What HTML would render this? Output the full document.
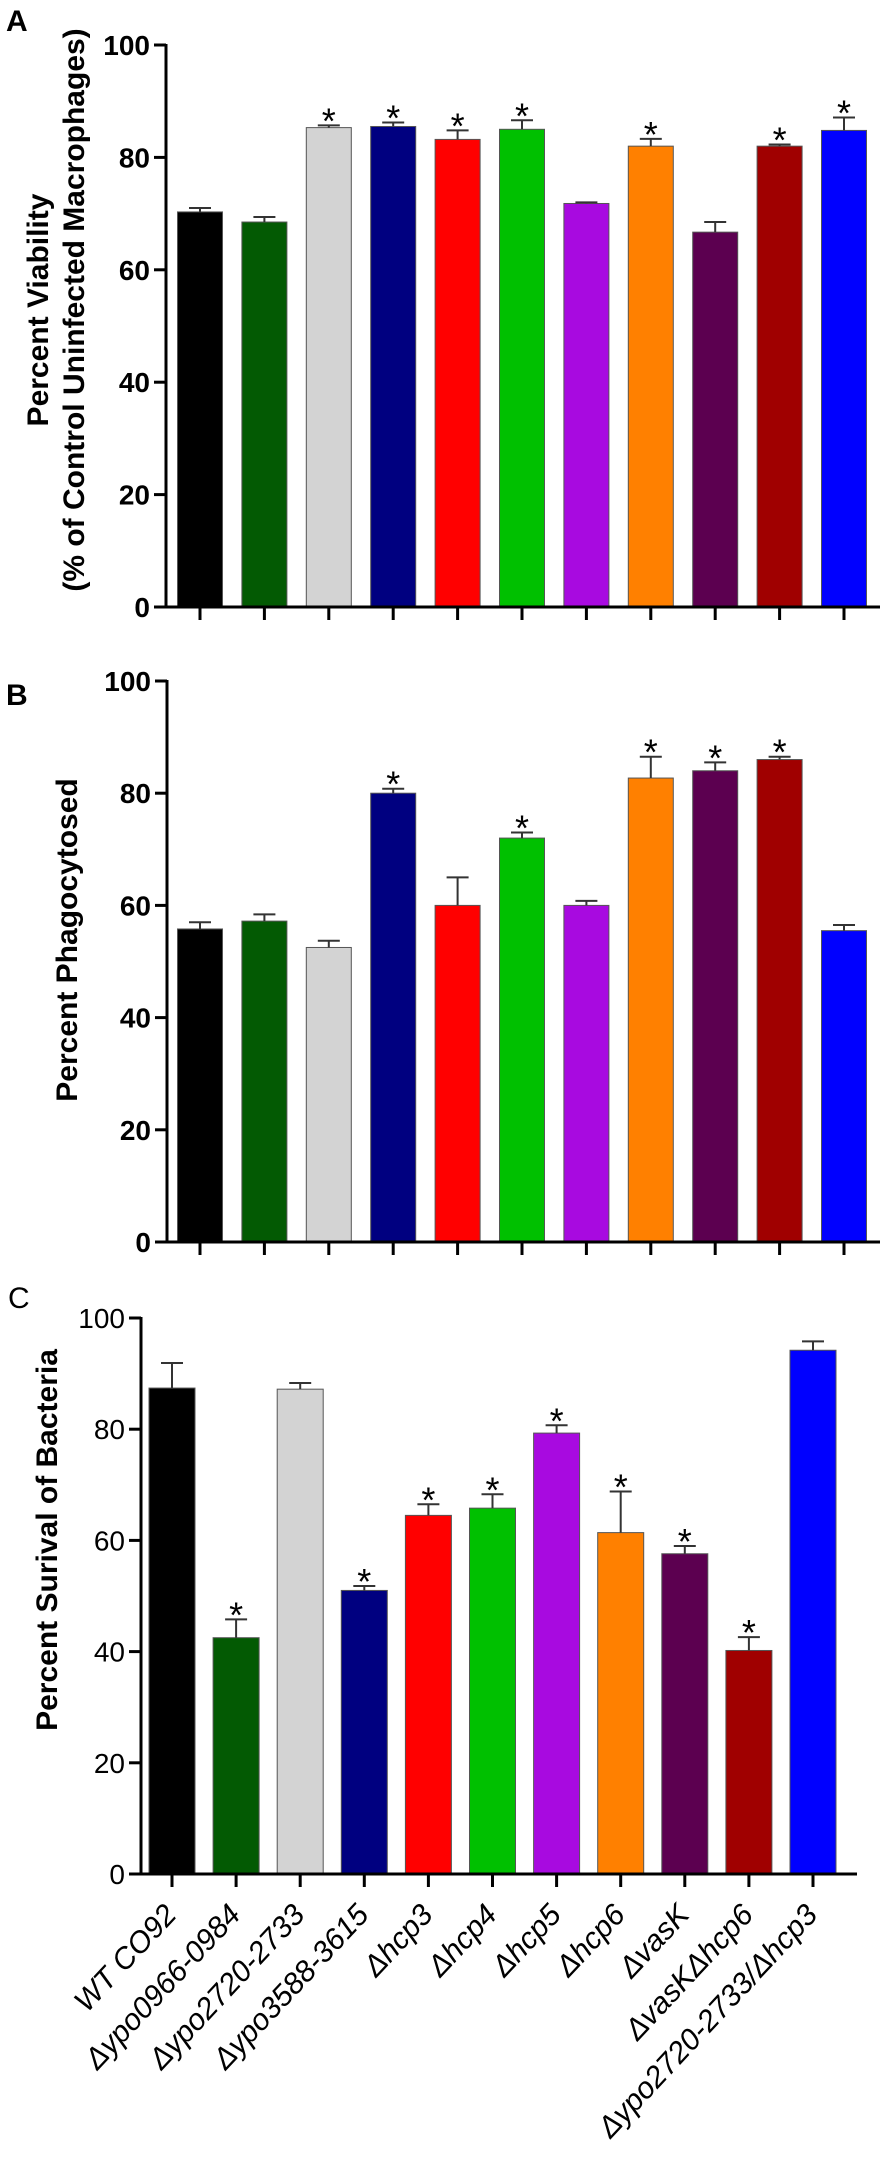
<!DOCTYPE html>
<html><head><meta charset="utf-8"><style>
html,body{margin:0;padding:0;background:#fff;}
svg{display:block;font-family:"Liberation Sans",Arial,sans-serif;}
</style></head><body>
<svg id="chart" width="885" height="2158" viewBox="0 0 885 2158" xmlns="http://www.w3.org/2000/svg">
<text x="6" y="31" font-size="30" font-weight="bold">A</text>
<text x="6" y="705" font-size="30" font-weight="bold">B</text>
<text x="8" y="1308" font-size="30">C</text>
<text transform="translate(48,310) rotate(-90)" text-anchor="middle" font-size="30" font-weight="bold">Percent Viability</text>
<text transform="translate(84,310) rotate(-90)" text-anchor="middle" font-size="30" font-weight="bold">(% of Control Uninfected Macrophages)</text>
<text transform="translate(77,940) rotate(-90)" text-anchor="middle" font-size="30" font-weight="bold">Percent Phagocytosed</text>
<text transform="translate(57,1540) rotate(-90)" text-anchor="middle" font-size="30" font-weight="bold">Percent Surival of Bacteria</text>
<g id="plots"></g>
</svg>
<script>
const categories = ["WT CO92","\u0394ypo0966-0984","\u0394ypo2720-2733","\u0394ypo3588-3615","\u0394hcp3","\u0394hcp4","\u0394hcp5","\u0394hcp6","\u0394vasK","\u0394vasK\u0394hcp6","\u0394ypo2720-2733/\u0394hcp3"];
const colors = ["#000000","#035a03","#d3d3d3","#000080","#ff0000","#00c000","#a80ae0","#ff8000","#5c0050","#a00000","#0000ff"];
const yTicks = [0,20,40,60,80,100];
const valuesA = [70.3,68.5,85.3,85.5,83.2,85.0,71.8,82.0,66.7,82.0,84.8];
const errorsA = [0.7,0.9,0.4,0.7,1.6,1.6,0.2,1.3,1.8,0.3,2.3];
const starsA = [2,3,4,5,7,9,10];
const valuesB = [55.8,57.2,52.5,80.0,60.0,72.0,60.0,82.7,84.0,86.0,55.5];
const errorsB = [1.2,1.2,1.2,0.8,5.0,1.0,0.8,3.8,1.5,0.5,1.0];
const starsB = [3,5,7,8,9];
const valuesC = [87.4,42.5,87.2,51.0,64.5,65.8,79.3,61.4,57.6,40.2,94.2];
const errorsC = [4.5,3.3,1.1,0.8,2.0,2.5,1.4,7.4,1.4,2.4,1.6];
const starsC = [1,3,4,5,6,7,8,9];

const NS="http://www.w3.org/2000/svg";
const root=document.getElementById('plots');
function mk(tag,attrs,parent){const e=document.createElementNS(NS,tag);for(const k in attrs)e.setAttribute(k,attrs[k]);(parent||root).appendChild(e);return e;}

function panel(key,vals,errs,stars,axisX,y0,y100,c0,step,bw,xEnd,tickStyle,withLabels){
  const g=mk('g',{});
  
  
  const ys=v=>y0-(y0-y100)*v/100;
  const xs=i=>c0+step*i;
  vals.forEach((v,i)=>{
    const r=mk('rect',{x:xs(i)-bw/2,y:ys(v),width:bw,height:y0-ys(v),fill:colors[i],stroke:'#555','stroke-width':1},g);
    
    
    const et=ys(v+errs[i]);
    const eb=mk('path',{d:`M${xs(i)} ${ys(v)}V${et}M${xs(i)-11} ${et}H${xs(i)+11}`,stroke:'#333','stroke-width':2,fill:'none'},g);
    
    
  });
  stars.forEach(i=>{
    const t=mk('text',{x:xs(i),y:ys(vals[i]+errs[i])+8,'text-anchor':'middle','font-size':36},g);
    t.textContent='*';
    
    
  });
  const ya=mk('line',{x1:axisX,y1:y100-1,x2:axisX,y2:y0+1,stroke:'#000','stroke-width':3},g);
  
  
  const xa=mk('line',{x1:axisX-12,y1:y0,x2:xEnd,y2:y0,stroke:'#000','stroke-width':3},g);
  
  
  yTicks.forEach(t=>{
    const y=ys(t);
    mk('line',{x1:axisX-12,y1:y,x2:axisX,y2:y,stroke:'#000','stroke-width':3},g);
    const lb=mk('text',{x:axisX-16,y:y+10,'text-anchor':'end','font-size':28,'font-weight':tickStyle},g);
    lb.textContent=t;
    
    
  });
  vals.forEach((v,i)=>{
    mk('line',{x1:xs(i),y1:y0,x2:xs(i),y2:y0+13,stroke:'#000','stroke-width':3},g);
    if(withLabels){
      const lb=mk('text',{transform:`translate(${xs(i)+6},${y0+42}) rotate(-47)`,'text-anchor':'end','font-size':30,'font-style':'italic'},g);
      lb.textContent=categories[i];
      
      
    }
  });
}
panel('a',valuesA,errorsA,starsA,166,607,45,200,64.4,45,880,'bold',false);
panel('b',valuesB,errorsB,starsB,167,1242,681,200,64.4,45,880,'bold',false);
panel('c',valuesC,errorsC,starsC,141,1874,1318,172,64.1,46,857,'normal',true);
</script>
</body></html>
